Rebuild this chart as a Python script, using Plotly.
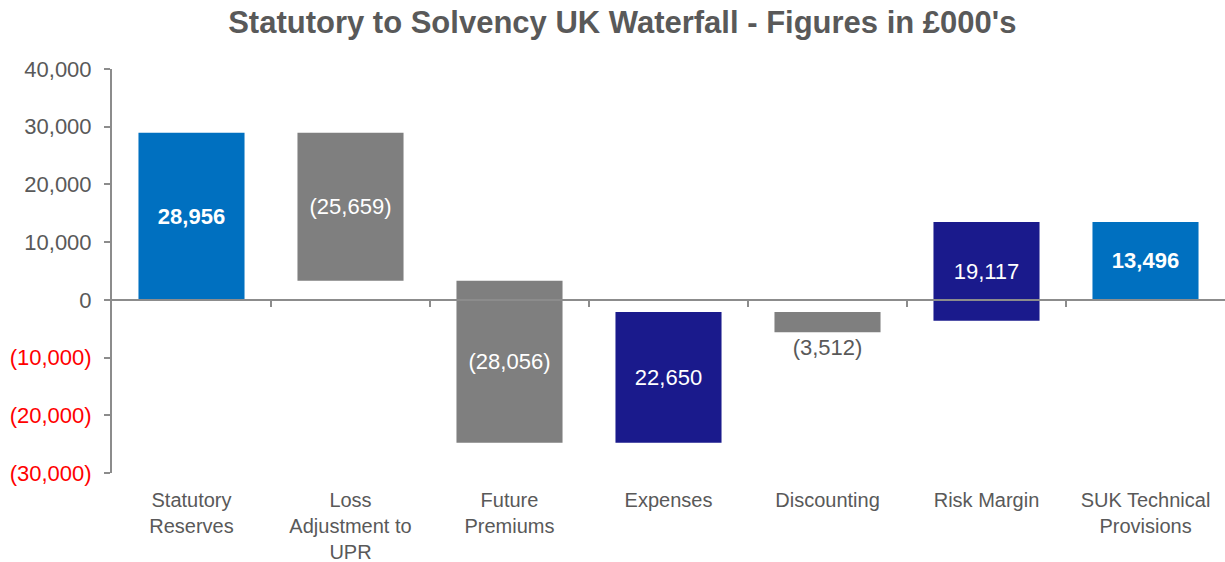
import plotly.graph_objects as go

categories = ["Statutory<br>Reserves", "Loss<br>Adjustment to<br>UPR", "Future<br>Premiums",
              "Expenses", "Discounting", "Risk Margin", "SUK Technical<br>Provisions"]
# each bar runs from its start level to its end level as drawn in the reference (£000)
bar_start = [0, 28956, 3297, -24759, -2109, -3621, 0]
bar_end = [28956, 3297, -24759, -2109, -5621, 13496, 13496]
bar_labels = ["<b>28,956</b>", "(25,659)", "(28,056)", "22,650", "(3,512)", "19,117", "<b>13,496</b>"]
bar_kind = ["total", "decrease", "decrease", "increase", "decrease", "increase", "total"]
label_positions = ["inside", "inside", "inside", "inside", "outside", "inside", "inside"]
y_ticks = [40000, 30000, 20000, 10000, 0, -10000, -20000, -30000]
y_tick_labels = ["40,000", "30,000", "20,000", "10,000", "0",
                 "<span style='color:#FF0000'>(10,000)</span>",
                 "<span style='color:#FF0000'>(20,000)</span>",
                 "<span style='color:#FF0000'>(30,000)</span>"]

FONT = "Liberation Sans, Arial, sans-serif"
GREY_TXT = "#595959"
AXIS = "#8c8c8c"
KIND_COLOR = {"total": "#0070c0", "decrease": "#7f7f7f", "increase": "#1a1a8c"}

heights = [e - s for s, e in zip(bar_start, bar_end)]
colors = [KIND_COLOR[k] for k in bar_kind]

fig = go.Figure()
fig.add_trace(go.Bar(
    x=categories, y=heights, base=bar_start,
    marker=dict(color=colors, line=dict(width=0)),
    text=bar_labels, textposition=label_positions,
    insidetextanchor="middle", textangle=0, constraintext="none",
    insidetextfont=dict(family=FONT, size=22, color="white"),
    outsidetextfont=dict(family=FONT, size=22, color=GREY_TXT),
    cliponaxis=False, hoverinfo="skip", width=0.667,
))
# helper trace so the zero-line axis is drawn
fig.add_trace(go.Scatter(x=[None], y=[None], xaxis="x2", showlegend=False, hoverinfo="skip"))

fig.update_layout(
    width=1225, height=562,
    margin=dict(l=112, r=0, t=69, b=89),
    paper_bgcolor="white", plot_bgcolor="white",
    showlegend=False,
    font=dict(family=FONT, size=22, color=GREY_TXT),
    title=dict(text="<b>Statutory to Solvency UK Waterfall - Figures in £000's</b>",
               x=0.508, xref="container", xanchor="center",
               y=1 - 22 / 562, yref="container", yanchor="middle",
               font=dict(family=FONT, size=31, color=GREY_TXT)),
    xaxis=dict(type="category", categoryorder="array", categoryarray=categories,
               range=[-0.5, 6.5], showline=False, showgrid=False, zeroline=False,
               automargin=False,
               ticks="outside", ticklen=9, tickcolor="rgba(0,0,0,0)",
               tickfont=dict(family=FONT, size=20, color=GREY_TXT)),
    xaxis2=dict(overlaying="x", anchor="free", position=3/7, range=[-0.5, 6.5],
                showline=True, linecolor=AXIS, linewidth=2,
                tickmode="array", tickvals=[0.5, 1.5, 2.5, 3.5, 4.5, 5.5],
                ticks="outside", ticklen=6, tickwidth=2, tickcolor=AXIS,
                showticklabels=False, showgrid=False, zeroline=False, layer="above traces"),
    yaxis=dict(range=[-30000, 40000], tickmode="array", tickvals=y_ticks, ticktext=y_tick_labels,
               showline=True, linecolor=AXIS, linewidth=2, ticks="outside", ticklen=6,
               tickwidth=2, tickcolor=AXIS, showgrid=False, zeroline=False, automargin=False,
               ticklabelstandoff=8,
               tickfont=dict(family=FONT, size=22, color=GREY_TXT)),
)

fig.write_html("out.html")
